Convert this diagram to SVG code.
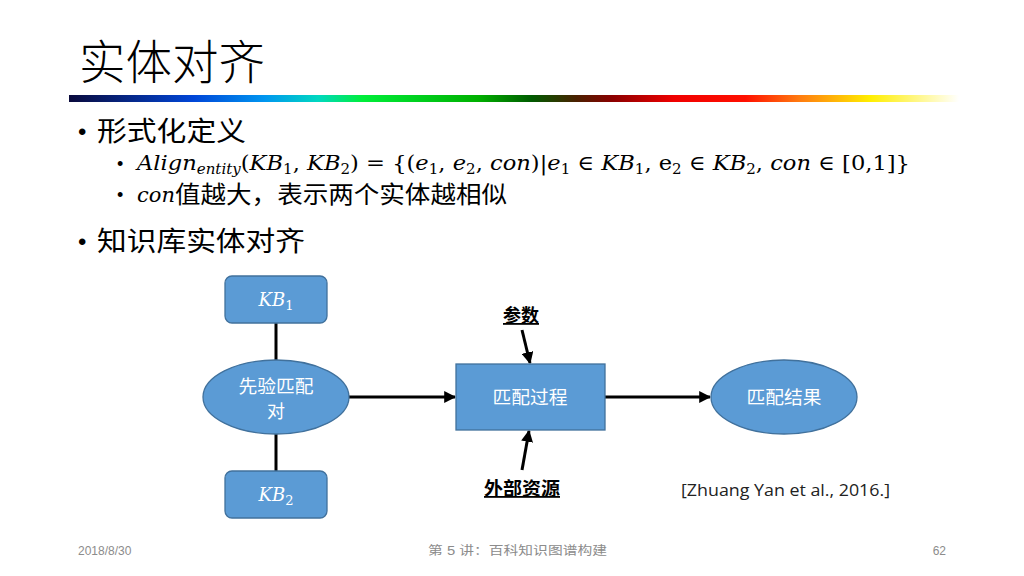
<svg xmlns="http://www.w3.org/2000/svg" width="1024" height="576" viewBox="0 0 1024 576">
<defs>
<linearGradient id="rainbow" x1="0" y1="0" x2="1" y2="0">
<stop offset="0" stop-color="#0a0a3c"/>
<stop offset="0.14" stop-color="#0046d8"/>
<stop offset="0.22" stop-color="#0096f0"/>
<stop offset="0.28" stop-color="#00d8c0"/>
<stop offset="0.33" stop-color="#00ee3a"/>
<stop offset="0.46" stop-color="#00b000"/>
<stop offset="0.52" stop-color="#005a00"/>
<stop offset="0.57" stop-color="#4a2000"/>
<stop offset="0.61" stop-color="#8a0000"/>
<stop offset="0.68" stop-color="#f00000"/>
<stop offset="0.76" stop-color="#ff1000"/>
<stop offset="0.82" stop-color="#ff7a10"/>
<stop offset="0.9" stop-color="#ffee00"/>
<stop offset="1" stop-color="#ffffff"/>
</linearGradient>
<marker id="arr" viewBox="0 0 10 10" refX="9" refY="5" markerWidth="4" markerHeight="4" orient="auto" markerUnits="strokeWidth">
<path d="M0,0 L10,5 L0,10 z" fill="#000"/>
</marker>
</defs>
<style>
.cjk{font-family:"Noto Sans CJK SC","Noto Sans",sans-serif;}
.math{font-family:"DejaVu Serif","Liberation Serif",serif;font-style:italic;}
.up{font-style:normal;}
.node{fill:#5b9bd5;stroke:#41719c;stroke-width:1.3;}
.ntext{font-family:"Noto Sans CJK SC","Noto Sans",sans-serif;font-size:18px;fill:#ffffff;text-anchor:middle;}
.conn{stroke:#000;stroke-width:3;fill:none;}
.lbl{font-family:"Noto Sans CJK SC","Noto Sans",sans-serif;font-size:18px;font-weight:bold;text-decoration:underline;text-anchor:middle;fill:#000;}
.foot{font-family:"Liberation Sans","Noto Sans CJK SC",sans-serif;font-size:12px;fill:#8c8c8c;}
.bul{font-family:"Liberation Sans",sans-serif;fill:#000;}
</style>
<rect width="1024" height="576" fill="#ffffff"/>
<text x="79" y="79" class="cjk" font-size="47" font-weight="300" fill="#000" textLength="186" lengthAdjust="spacingAndGlyphs">实体对齐</text>
<rect x="69" y="95" width="890" height="7" fill="url(#rainbow)"/>

<text x="78" y="140" class="bul" font-size="24">•</text>
<text x="97" y="141" class="cjk" font-size="27" fill="#000" textLength="149" lengthAdjust="spacingAndGlyphs">形式化定义</text>

<text x="117" y="170" class="bul" font-size="18">•</text>
<text x="137" y="170" font-size="21" fill="#000" class="math" textLength="773" lengthAdjust="spacingAndGlyphs">Align<tspan font-size="14" dy="4">entity</tspan><tspan dy="-4" class="up">(</tspan>KB<tspan font-size="14" dy="4" class="up">1</tspan><tspan dy="-4" class="up">, </tspan>KB<tspan font-size="14" dy="4" class="up">2</tspan><tspan dy="-4" class="up">) = {(</tspan>e<tspan font-size="14" dy="4" class="up">1</tspan><tspan dy="-4" class="up">, </tspan>e<tspan font-size="14" dy="4" class="up">2</tspan><tspan dy="-4" class="up">, </tspan>con<tspan class="up">)|</tspan>e<tspan font-size="14" dy="4" class="up">1</tspan><tspan dy="-4" class="up"> ∈ </tspan>KB<tspan font-size="14" dy="4" class="up">1</tspan><tspan dy="-4" class="up">, e</tspan><tspan font-size="14" dy="4" class="up">2</tspan><tspan dy="-4" class="up"> ∈ </tspan>KB<tspan font-size="14" dy="4" class="up">2</tspan><tspan dy="-4" class="up">, </tspan>con<tspan class="up"> ∈ [0,1]}</tspan></text>

<text x="117" y="201" class="bul" font-size="18">•</text>
<text x="137" y="202" font-size="21" fill="#000" class="math">con</text>
<text x="175" y="203" class="cjk" font-size="24" fill="#000" textLength="332" lengthAdjust="spacingAndGlyphs">值越大，表示两个实体越相似</text>

<text x="78" y="250" class="bul" font-size="24">•</text>
<text x="97" y="251" class="cjk" font-size="27" fill="#000" textLength="208" lengthAdjust="spacingAndGlyphs">知识库实体对齐</text>

<g id="connectors">
<line class="conn" x1="276" y1="323" x2="276" y2="360"/>
<line class="conn" x1="276" y1="434" x2="276" y2="471"/>
<line class="conn" x1="349" y1="397" x2="455" y2="397" marker-end="url(#arr)"/>
<line class="conn" x1="605" y1="397" x2="710" y2="397" marker-end="url(#arr)"/>
<line class="conn" x1="522" y1="330" x2="530" y2="363" marker-end="url(#arr)"/>
<line class="conn" x1="522" y1="470" x2="529" y2="431" marker-end="url(#arr)"/>
</g>

<g id="kb1">
<rect class="node" x="225" y="276" width="102" height="47" rx="7"/>
<text x="276" y="306" class="math" font-size="18" fill="#fff" text-anchor="middle">KB<tspan font-size="13" dy="4" class="up">1</tspan></text>
</g>
<g id="kb2">
<rect class="node" x="225" y="471" width="102" height="47" rx="7"/>
<text x="276" y="501" class="math" font-size="18" fill="#fff" text-anchor="middle">KB<tspan font-size="13" dy="4" class="up">2</tspan></text>
</g>
<g id="prior">
<ellipse class="node" cx="276" cy="397" rx="73" ry="37"/>
<text x="276" y="393" class="ntext" textLength="75" lengthAdjust="spacingAndGlyphs">先验匹配</text>
<text x="276" y="418" class="ntext">对</text>
</g>
<g id="process">
<rect class="node" x="456" y="364" width="149" height="66"/>
<text x="530" y="404" class="ntext" textLength="75" lengthAdjust="spacingAndGlyphs">匹配过程</text>
</g>
<g id="result">
<ellipse class="node" cx="784" cy="397" rx="73" ry="37"/>
<text x="784" y="404" class="ntext" textLength="75" lengthAdjust="spacingAndGlyphs">匹配结果</text>
</g>
<g id="params">
<text x="521" y="322" class="lbl">参数</text>
</g>
<g id="external">
<text x="522" y="495" class="lbl" textLength="76" lengthAdjust="spacingAndGlyphs">外部资源</text>
</g>
<text x="681" y="496" font-family="Open Sans, Liberation Sans, sans-serif" font-size="16" fill="#222" textLength="209" lengthAdjust="spacingAndGlyphs">[Zhuang Yan et al., 2016.]</text>

<text x="78" y="555" class="foot">2018/8/30</text>
<text x="428" y="555" class="foot" textLength="179" lengthAdjust="spacingAndGlyphs">第 5 讲：百科知识图谱构建</text>
<text x="946" y="555" class="foot" text-anchor="end">62</text>
</svg>
